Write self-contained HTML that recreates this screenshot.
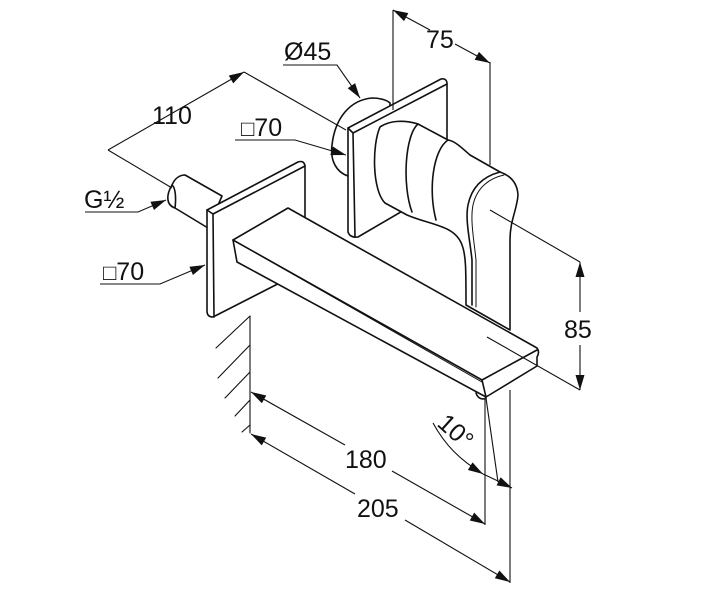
<!DOCTYPE html>
<html><head><meta charset="utf-8"><style>
html,body{margin:0;padding:0;background:#fff;}
svg{display:block;}
text{font-family:"Liberation Sans",sans-serif;fill:#111;}
</style></head><body>
<svg width="703" height="600" viewBox="0 0 703 600" xmlns="http://www.w3.org/2000/svg">
<defs>
<marker id="a" viewBox="0 0 10 6" refX="10" refY="3" markerWidth="20" markerHeight="9" markerUnits="userSpaceOnUse" orient="auto-start-reverse"><path d="M0,0L10,3L0,6z" fill="#111"/></marker>
</defs>
<g fill="#fff" stroke="#111" stroke-width="1.6" stroke-linejoin="round" stroke-linecap="round">
<!-- rosette -->
<path d="M348,176 C336,172 330,160 332,145 C335,118 350,100 372,98 C382,98 388,101 390,103 L390,160 Z"/>
<!-- rear plate -->
<path d="M348,128 L441,79 Q447,78 447,84 L447,185 L358,237 Q350,238 348,232 Z"/>
<path d="M348,128 L353,133 L447,84 M353,133 L355,237" fill="none"/>
<!-- handle body -->
<path d="M380,127 C390,120 405,120 418,124 L448,140 C455,141 462,148 470,155 L500,172 Q517,178 518,195 C517,210 510,220 510,240 L510,330 L466,305 C466,270 466,255 462,245 C455,225 430,225 407,215 L385,203 C372,190 372,145 380,127 Z"/>
<path d="M418,124 C405,135 402,185 412,212" fill="none"/>
<path d="M448,140 C433,150 428,190 436,220" fill="none"/>
<path d="M500,172 C485,176 472,185 468,205 C465,220 470,240 472,260 L472,305" fill="none"/>
<path d="M504,175 C490,178 477,187 473,205 C470,220 474,240 476,260 L476,307" fill="none" stroke-width="1"/>
<!-- pipe -->
<path d="M172,185 C175,178 180,175 185,175 L222,196 L208,228 L175,208 C166,205 166,195 172,185 Z"/>
<path d="M172,185 C176,188 176,200 175,208" fill="none"/>
<!-- front plate -->
<path d="M207,210 L298,162 Q304,160 305,166 L305,270 L213,317 Q207,317 207,311 Z"/>
<path d="M207,210 L213,214 L305,166 M213,214 L214,317" fill="none"/>
<!-- spout -->
<path d="M233,240 L288,208 L537,348 Q540,352 537,357 L537,366 L486,397 L237,262 Z"/>
<path d="M233,240 L482,380 L537,350 M482,380 L486,397" fill="none"/>
<path d="M240,244 L482,382" fill="none" stroke-width="1"/>
<path d="M476,393 C478,399 483,400 486,398" fill="none"/>
<!-- wall -->
<path d="M250,316 L250,433 M250,316 L216,348 M250,345 L218,378 M250,372 L225,398 M250,400 L235,416 M250,425 L242,432" fill="none" stroke-width="1.1"/>
</g>
<g fill="none" stroke="#111" stroke-width="1.1">
<line x1="108" y1="150" x2="244" y2="72" marker-end="url(#a)"/>
<line x1="244" y1="72" x2="346" y2="130"/>
<line x1="108" y1="150" x2="172" y2="188"/>
<path d="M283,65 L337,65 L360,98" marker-end="url(#a)"/>
<line x1="393" y1="10" x2="393" y2="110"/>
<line x1="490" y1="62" x2="490" y2="165"/>
<line x1="393" y1="10" x2="430" y2="30" marker-start="url(#a)"/>
<line x1="455" y1="44" x2="490" y2="63" marker-end="url(#a)"/>
<path d="M235,140 L295,140 L346,155" marker-end="url(#a)"/>
<path d="M85,212 L138,212 L166,200" marker-end="url(#a)"/>
<path d="M100,284 L160,284 L205,265" marker-end="url(#a)"/>
<line x1="490" y1="210" x2="580" y2="262"/>
<line x1="487" y1="337" x2="580" y2="390"/>
<line x1="580" y1="262" x2="580" y2="312" marker-start="url(#a)"/>
<line x1="580" y1="345" x2="580" y2="390" marker-end="url(#a)"/>
<line x1="485" y1="398" x2="485" y2="525"/>
<line x1="510" y1="390" x2="510" y2="583"/>
<line x1="486" y1="398" x2="498" y2="482"/>
<line x1="251" y1="392" x2="345" y2="445" marker-start="url(#a)"/>
<line x1="392" y1="471" x2="485" y2="524" marker-end="url(#a)"/>
<line x1="251" y1="434" x2="355" y2="494" marker-start="url(#a)"/>
<line x1="405" y1="520" x2="510" y2="582" marker-end="url(#a)"/>
<path d="M433,423 C445,445 460,460 483,474" marker-end="url(#a)"/>
<path d="M483,474 C492,478 500,482 512,488" marker-end="url(#a)"/>
</g>
<g font-size="25">
<text x="152" y="124">110</text>
<text x="284" y="60">Ø45</text>
<text x="426" y="48">75</text>
<text x="241" y="136"><tspan font-size="22">□</tspan>70</text>
<text x="84" y="208">G½</text>
<text x="103" y="280"><tspan font-size="22">□</tspan>70</text>
<text x="564" y="338">85</text>
<text x="345" y="468">180</text>
<text x="357" y="517">205</text>
<text x="0" y="0" transform="translate(436,425) rotate(42)">10°</text>
</g>
</svg>
</body></html>
